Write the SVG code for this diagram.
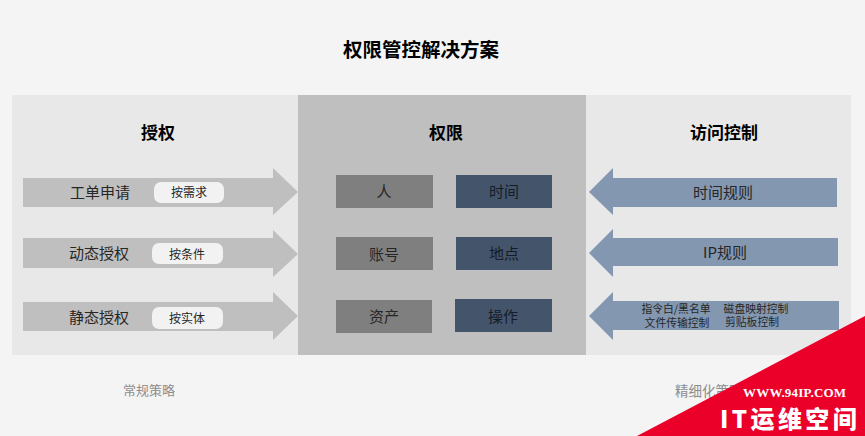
<svg xmlns="http://www.w3.org/2000/svg" width="865" height="436" viewBox="0 0 865 436">
<style>
text{font-family:"Noto Sans CJK SC","Liberation Sans",sans-serif;text-anchor:middle;fill:#262626}
.h{font-size:17px;font-weight:700;fill:#000}
.a{fill:#bfbfbf}.b{fill:#8497b0}
.p{fill:#f2f2f2}
.g{fill:#7f7f7f}.n{fill:#44546a}
.l{font-size:15px}.s{font-size:12px}.t{font-size:10.8px}
.d{fill:#141c28}
.c{font-size:13px;fill:#8c8c8c}
</style>
<rect width="865" height="436" fill="#f4f4f4"/>
<text x="421" y="57" class="h" style="font-size:19.5px">权限管控解决方案</text>
<g id="panel-auth"><rect x="12" y="95" width="287" height="260" fill="#e8e8e8"/><text x="158" y="139" class="h">授权</text></g>
<g id="panel-limit"><rect x="298" y="95" width="288" height="260" fill="#bfbfbf"/><text x="446" y="139" class="h">权限</text></g>
<g id="panel-access"><rect x="586" y="95" width="265" height="260" fill="#e8e8e8"/><text x="724" y="139" class="h">访问控制</text></g>
<g id="connectors">
<polygon class="a" points="23,178 273,178 273,168 298,192 273,215 273,207 23,207"/>
<polygon class="a" points="23,238 273,238 273,230 298,254 273,277 273,268 23,268"/>
<polygon class="a" points="23,302 273,302 273,292 298,316 273,340 273,331 23,331"/>
<polygon class="b" points="837,178 613,178 613,168 589,192 613,215 613,207 837,207"/>
<polygon class="b" points="838,238 613,238 613,229 589,253 613,277 613,266 838,266"/>
<polygon class="b" points="839,301 613,301 613,292 589,316 613,340 613,330 839,330"/>
</g>
<g id="n1"><text x="100" y="198" class="l">工单申请</text></g>
<g id="n2"><rect x="154" y="182" width="70" height="21" rx="7" class="p"/><text x="189" y="197" class="s">按需求</text></g>
<g id="n3"><text x="99" y="259" class="l">动态授权</text></g>
<g id="n4"><rect x="152" y="243" width="71" height="21" rx="7" class="p"/><text x="187" y="259" class="s">按条件</text></g>
<g id="n5"><text x="99" y="323" class="l">静态授权</text></g>
<g id="n6"><rect x="152" y="307" width="71" height="22" rx="7" class="p"/><text x="187" y="323" class="s">按实体</text></g>
<g id="n7"><rect x="336" y="175" width="97" height="33" class="g"/><text x="384" y="197" class="l">人</text></g>
<g id="n8"><rect x="456" y="175" width="96" height="33" class="n"/><text x="504" y="197" class="l d">时间</text></g>
<g id="n9"><rect x="336" y="237" width="97" height="33" class="g"/><text x="384" y="260" class="l">账号</text></g>
<g id="n10"><rect x="456" y="237" width="96" height="33" class="n"/><text x="504" y="259" class="l d">地点</text></g>
<g id="n11"><rect x="336" y="300" width="96" height="33" class="g"/><text x="384" y="322" class="l">资产</text></g>
<g id="n12"><rect x="455" y="299" width="97" height="33" class="n"/><text x="503" y="322" class="l d">操作</text></g>
<g id="n13"><text x="723" y="198" class="l">时间规则</text></g>
<g id="n14"><text x="725" y="258" class="l">IP规则</text></g>
<g id="n15"><text x="676" y="313" class="t">指令白/黑名单</text><text x="677" y="327" class="t">文件传输控制</text><text x="756" y="313" class="t">磁盘映射控制</text><text x="752" y="326" class="t">剪贴板控制</text></g>
<text x="149" y="395" class="c">常规策略</text>
<text x="675" y="396" class="c" style="text-anchor:start;font-size:13.5px">精细化策略</text>
<g id="badge"><polygon points="865,316 865,436 637,436" fill="#ea0029"/>
<text x="743" y="397" style="text-anchor:start;font-family:'Liberation Serif',serif;font-weight:700;font-size:13px;fill:#fff;letter-spacing:.2px">WWW.94IP.COM</text>
<text x="720" y="428" style="text-anchor:start;font-weight:900;font-size:24px;fill:#fff;letter-spacing:3.4px">IT运维空间</text></g>
</svg>
